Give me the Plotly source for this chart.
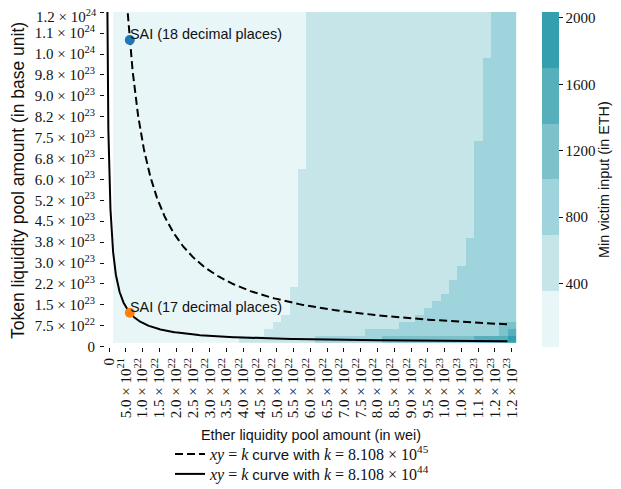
import plotly.graph_objects as go

# ---------------- data ----------------
x_tick_vals = [0.0, 0.5e22, 1.0e22, 1.5e22, 2.0e22, 2.5e22, 3.0e22, 3.5e22, 4.0e22, 4.5e22,
               5.0e22, 5.5e22, 6.0e22, 6.5e22, 7.0e22, 7.5e22, 8.0e22, 8.5e22, 9.0e22, 9.5e22,
               10.0e22, 10.5e22, 11.0e22, 11.5e22, 12.0e22]
x_tick_labels = ["0", "5.0 × 10<sup>21</sup>", "1.0 × 10<sup>22</sup>", "1.5 × 10<sup>22</sup>",
                 "2.0 × 10<sup>22</sup>", "2.5 × 10<sup>22</sup>", "3.0 × 10<sup>22</sup>",
                 "3.5 × 10<sup>22</sup>", "4.0 × 10<sup>22</sup>", "4.5 × 10<sup>22</sup>",
                 "5.0 × 10<sup>22</sup>", "5.5 × 10<sup>22</sup>", "6.0 × 10<sup>22</sup>",
                 "6.5 × 10<sup>22</sup>", "7.0 × 10<sup>22</sup>", "7.5 × 10<sup>22</sup>",
                 "8.0 × 10<sup>22</sup>", "8.5 × 10<sup>22</sup>", "9.0 × 10<sup>22</sup>",
                 "9.5 × 10<sup>22</sup>", "1.0 × 10<sup>23</sup>", "1.0 × 10<sup>23</sup>",
                 "1.1 × 10<sup>23</sup>", "1.2 × 10<sup>23</sup>", "1.2 × 10<sup>23</sup>"]
y_tick_vals = [0.0, 0.75e23, 1.5e23, 2.25e23, 3.0e23, 3.75e23, 4.5e23, 5.25e23, 6.0e23,
               6.75e23, 7.5e23, 8.25e23, 9.0e23, 9.75e23, 10.5e23, 11.25e23, 12.0e23]
y_tick_labels = ["0", "7.5 × 10<sup>22</sup>", "1.5 × 10<sup>23</sup>", "2.2 × 10<sup>23</sup>",
                 "3.0 × 10<sup>23</sup>", "3.8 × 10<sup>23</sup>", "4.5 × 10<sup>23</sup>",
                 "5.2 × 10<sup>23</sup>", "6.0 × 10<sup>23</sup>", "6.8 × 10<sup>23</sup>",
                 "7.5 × 10<sup>23</sup>", "8.2 × 10<sup>23</sup>", "9.0 × 10<sup>23</sup>",
                 "9.8 × 10<sup>23</sup>", "1.0 × 10<sup>24</sup>", "1.1 × 10<sup>24</sup>",
                 "1.2 × 10<sup>24</sup>"]

# heatmap grid (cell centres): ether reserve (wei) and token reserve (base unit)
ether_grid = [2.5e21 * i for i in range(1, 49)]
token_grid = [2.5e22 * j for j in range(1, 49)]

# colour bands of the min-victim-input map (ETH); representative value per band
band_values = [186, 522, 858, 1195, 1531, 1868]
cbar_min, cbar_max = 18, 2036
cbar_ticks = [400, 800, 1200, 1600, 2000]

# for each token row (bottom -> top) the first ether column (1-based) reaching each band
band2_start = [16, 19, 20, 21, 22, 22, 22, 22] + [23] * 17 + [24] * 23
band3_start = [25, 31, 35, 37, 38, 39, 40, 41, 41, 42, 42, 43, 43, 43, 43] + [44] * 14 + [45] * 12 + [46] * 7
band4_start = [33, 47, 47] + [49] * 45
band5_start = [44, 48] + [49] * 46
band6_start = [48] + [49] * 47

# xy = k curves and the SAI pools
k_values = [8.108e45, 8.108e44]
SANS = "Liberation Sans"
SERIF = "Liberation Serif"
curve_names = [f"<i>xy</i> = <i>k</i> <span style='font-family:{SANS};font-size:15px'>curve with</span> <i>k</i> = 8.108 × 10<sup>45</sup>",
               f"<i>xy</i> = <i>k</i> <span style='font-family:{SANS};font-size:15px'>curve with</span> <i>k</i> = 8.108 × 10<sup>44</sup>"]
curve_dash = ["8px,4px", "solid"]
sai_ether = 7.45e21
sai_tokens = [1.088e24, 1.088e23]
sai_labels = ["SAI (18 decimal places)", "SAI (17 decimal places)"]
sai_colors = ["#1f77b4", "#ff7f0e"]

# ---------------- layout geometry (page pixels; page body has an 8px margin) ----------------
OFF = 8
W, H = 621 - OFF, 489 - OFF
PLOT_L, PLOT_R, PLOT_T, PLOT_B = 105, 517, 12, 347   # target plot area in the page
L, R = PLOT_L - OFF, W - (PLOT_R - OFF)
T, B = PLOT_T - OFF, H - (PLOT_B - OFF)
pw, ph = W - L - R, H - T - B


def px_to_paper(xp, yp):
    return (xp - PLOT_L) / pw, (PLOT_B - yp) / ph


# ---------------- build ----------------
starts = [band2_start, band3_start, band4_start, band5_start, band6_start]
z = []
for j in range(len(token_grid)):
    row = []
    for i in range(1, len(ether_grid) + 1):
        b = sum(1 for s in starts if i >= s[j])
        row.append(band_values[b])
    z.append(row)

band_colors = ["#e9f6f8", "#c6e5e9", "#a0d4dc", "#7dc2ca", "#56b0bc", "#349fae"]
cs = []
n = len(band_colors)
for k, c in enumerate(band_colors):
    cs.append([k / n, c])
    cs.append([(k + 1) / n, c])

TXT = "#111"
cbx, _ = px_to_paper(542, 0)
fig = go.Figure()
fig.add_trace(go.Heatmap(
    x=ether_grid, y=token_grid, z=z, colorscale=cs, zmin=cbar_min, zmax=cbar_max,
    showscale=True, hoverinfo="skip",
    colorbar=dict(
        x=cbx, xanchor="left", xpad=0, ypad=0, y=0.5, yanchor="middle", len=1.0,
        thickness=17, outlinewidth=0, tickvals=cbar_ticks, ticks="outside", ticklen=4,
        tickcolor=TXT, tickfont=dict(family=SERIF, size=15, color=TXT),
    ),
))

ngrid = 400
legends = ["legend", "legend2"]
for kv, name, dash, lg in zip(k_values, curve_names, curve_dash, legends):
    xs = [5e20 * (1.2e23 / 5e20) ** (t / (ngrid - 1)) for t in range(ngrid)]
    ys = [kv / x for x in xs]
    fig.add_trace(go.Scatter(x=xs, y=ys, mode="lines", name=name, xaxis="x2", yaxis="y2",
                             legend=lg,
                             line=dict(color="black", width=2, dash=dash), hoverinfo="skip"))

for yv, lab, col in zip(sai_tokens, sai_labels, sai_colors):
    fig.add_trace(go.Scatter(x=[sai_ether], y=[yv], mode="markers", xaxis="x2", yaxis="y2",
                             marker=dict(color=col, size=10), showlegend=False, hoverinfo="skip"))
    fig.add_annotation(x=sai_ether, y=yv, xref="x2", yref="y2", text=lab, showarrow=False,
                       xanchor="left", yanchor="bottom", yshift=-4, xshift=-2,
                       font=dict(family=SANS, size=14.4, color=TXT))

# colour bar title and y axis title
tx, ty = px_to_paper(604, 180)
fig.add_annotation(x=tx, y=ty, xref="paper", yref="paper", text="Min victim input (in ETH)",
                   textangle=-90, showarrow=False, xanchor="center", yanchor="middle",
                   font=dict(family=SANS, size=14.4, color=TXT))
yx, yy = px_to_paper(18, 181)
fig.add_annotation(x=yx, y=yy, xref="paper", yref="paper",
                   text="Token liquidity pool amount (in base unit)",
                   textangle=-90, showarrow=False, xanchor="center", yanchor="middle",
                   font=dict(family=SANS, size=17.5, color=TXT))

# the top y tick label is drawn as an annotation nudged slightly down so it stays inside the page
tick_text_axis = list(y_tick_labels)
top_label = tick_text_axis[-1]
tick_text_axis[-1] = ""
ax_, _ = px_to_paper(99, 0)
fig.add_annotation(x=ax_, y=y_tick_vals[-1], xref="paper", yref="y", text=top_label,
                   showarrow=False, xanchor="right", yanchor="middle", yshift=-4,
                   font=dict(family=SERIF, size=15, color=TXT))

x_range = [-1.192e21, 1.2157e23]
y_range = [-1.5e21, 1.2010e24]
xshift = 1.25e21
yshift = 1.25e22

l1x, l1y = px_to_paper(170, 437)
l2x, l2y = px_to_paper(170, 457)
legfont = dict(family=SERIF, size=16, color=TXT)
tickfont = dict(family=SERIF, size=15, color=TXT)
fig.update_layout(
    width=W, height=H,
    margin=dict(l=L, r=R, t=T, b=B, autoexpand=False),
    plot_bgcolor="white", paper_bgcolor="white",
    xaxis=dict(range=x_range, tickvals=x_tick_vals, ticktext=x_tick_labels, tickangle=-90,
               ticks="outside", ticklen=4, tickcolor=TXT, tickfont=tickfont, automargin=False,
               showgrid=False, zeroline=False, showline=False,
               title=dict(text="Ether liquidity pool amount (in wei)", standoff=12,
                          font=dict(family=SANS, size=14.4, color=TXT))),
    yaxis=dict(range=y_range, tickvals=y_tick_vals, ticktext=tick_text_axis, automargin=False,
               ticks="outside", ticklen=4, tickcolor=TXT, tickfont=tickfont, ticklabelstandoff=2,
               ticklabeloverflow="allow",
               showgrid=False, zeroline=False, showline=False),
    xaxis2=dict(range=[x_range[0] + xshift, x_range[1] + xshift], overlaying="x",
                anchor="y2", visible=False),
    yaxis2=dict(range=[y_range[0] - yshift, y_range[1] - yshift], overlaying="y",
                anchor="x2", visible=False),
    legend=dict(x=l1x, xanchor="left", y=l1y, yanchor="top", orientation="v",
                bgcolor="rgba(0,0,0,0)", font=legfont, itemwidth=30),
    legend2=dict(x=l2x, xanchor="left", y=l2y, yanchor="top", orientation="v",
                 bgcolor="rgba(0,0,0,0)", font=legfont, itemwidth=30),
    showlegend=True,
)

fig.write_html("out.html")
